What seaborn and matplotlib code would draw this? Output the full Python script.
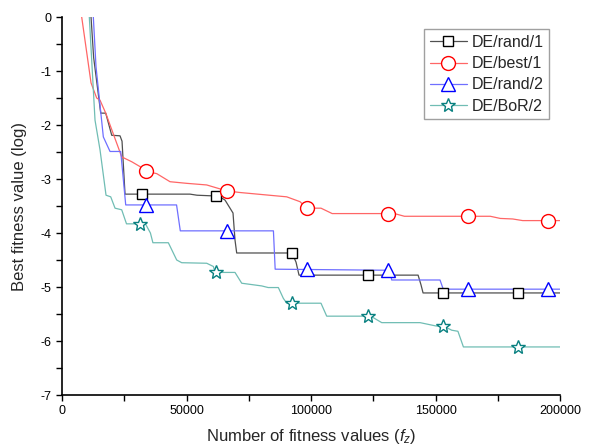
import numpy as np
import pandas as pd
import matplotlib
matplotlib.use('Agg')
import matplotlib.pyplot as plt
from matplotlib.lines import Line2D
from matplotlib.ticker import MultipleLocator
import seaborn as sns

# convergence curves (evaluations, log10 best fitness)
rand1_x = [11650, 12700, 15540, 17550, 19960, 23290, 24100, 25300, 51400, 54200, 59400, 62650,
           65460, 67470, 68670, 69470, 70150, 92370, 93980, 95180, 143000, 144170, 145000, 200000]
rand1_y = [0, -0.75, -1.78, -1.78, -2.19, -2.2, -2.3, -3.28, -3.28, -3.3, -3.31, -3.31,
           -3.39, -3.54, -3.63, -4.13, -4.37, -4.37, -4.54, -4.78, -4.78, -4.96, -5.11, -5.11]

best1_x = [7900, 11650, 13930, 15260, 17550, 20480, 23970, 27990, 31320, 33730, 38030, 43370,
           50080, 58110, 66140, 71480, 90240, 95580, 98270, 104000, 108500, 133500, 137500,
           172000, 176000, 181000, 185000, 200000]
best1_y = [0, -1.22, -1.5, -1.54, -1.78, -2.15, -2.59, -2.68, -2.77, -2.86, -2.9, -3.05,
           -3.08, -3.11, -3.22, -3.25, -3.33, -3.42, -3.54, -3.54, -3.64, -3.64, -3.69,
           -3.69, -3.73, -3.74, -3.77, -3.77]

rand2_x = [12570, 13650, 16590, 19280, 23570, 25580, 46000, 47500, 84900, 85600, 131700, 132400,
           151800, 153100, 200000]
rand2_y = [0, -0.92, -2.22, -2.49, -2.49, -3.48, -3.48, -3.96, -3.96, -4.67, -4.69, -4.87,
           -4.87, -5.04, -5.04]

bor2_x = [10960, 13250, 15260, 17670, 19560, 21290, 23970, 25300, 25900, 33500, 35500, 36500,
          42700, 46060, 48070, 58110, 60790, 61500, 69470, 72170, 80200, 82800, 86880, 88880,
          90240, 104000, 106300, 124000, 128400, 143800, 150000, 154000, 156500, 159000,
          161200, 200000]
bor2_y = [0, -1.91, -2.46, -3.3, -3.33, -3.54, -3.57, -3.75, -3.83, -3.83, -4.0, -4.18,
          -4.18, -4.5, -4.55, -4.56, -4.62, -4.73, -4.73, -4.93, -4.98, -5.01, -5.01, -5.21,
          -5.3, -5.3, -5.54, -5.54, -5.66, -5.66, -5.72, -5.74, -5.8, -5.82,
          -6.11, -6.11]

# marker positions
rand1_mx = [32100, 61800, 92370, 122800, 152900, 183300]
rand1_my = [-3.28, -3.31, -4.37, -4.78, -5.11, -5.11]
best1_mx = [33730, 66140, 98270, 130800, 162900, 195300]
best1_my = [-2.86, -3.22, -3.54, -3.64, -3.69, -3.77]
rand2_mx = [33730, 66140, 98270, 130800, 162900, 195300]
rand2_my = [-3.48, -3.96, -4.67, -4.69, -5.04, -5.04]
bor2_mx = [31300, 61840, 92240, 122800, 152900, 183300]
bor2_my = [-3.83, -4.73, -5.3, -5.54, -5.72, -6.11]

names = ['DE/rand/1', 'DE/best/1', 'DE/rand/2', 'DE/BoR/2']

sns.set_style('white')
plt.rcParams['font.family'] = ['Liberation Sans', 'DejaVu Sans']
plt.rcParams['mathtext.fontset'] = 'custom'
plt.rcParams['mathtext.it'] = 'Liberation Sans:italic'
plt.rcParams['mathtext.rm'] = 'Liberation Sans'
plt.rcParams['axes.unicode_minus'] = False

fig = plt.figure(figsize=(5.89, 4.48), dpi=100)
ax = fig.add_axes([0.1053, 0.1183, 0.8455, 0.8437])

series = [
    (rand1_x, rand1_y, rand1_mx, rand1_my, '#505050', 'black', 's', 7.5),
    (best1_x, best1_y, best1_mx, best1_my, '#ff6666', 'red', 'o', 10),
    (rand2_x, rand2_y, rand2_mx, rand2_my, '#6f6fff', 'blue', '^', 10),
    (bor2_x, bor2_y, bor2_mx, bor2_my, '#70bdb4', '#088080', '*', 10.5),
]

handles = []
for (x, y, mx, my, lc, mc, mk, ms), name in zip(series, names):
    sns.lineplot(x=x, y=y, ax=ax, color=lc, linewidth=0.9, sort=False, estimator=None)
    ax.plot(mx, my, linestyle='none', marker=mk, markersize=ms,
            markerfacecolor='white', markeredgecolor=mc, markeredgewidth=1.0, zorder=5)
    handles.append(Line2D([], [], color=lc, linewidth=0.9, marker=mk, markersize=ms,
                          markerfacecolor='white', markeredgecolor=mc, markeredgewidth=1.0))

ax.set_xlim(0, 200000)
ax.set_ylim(-7, 0)
ax.xaxis.set_major_locator(MultipleLocator(50000))
ax.xaxis.set_minor_locator(MultipleLocator(25000))
ax.yaxis.set_major_locator(MultipleLocator(1))
ax.yaxis.set_minor_locator(MultipleLocator(0.5))
ax.yaxis.set_major_formatter(plt.FormatStrFormatter('%d'))
ax.tick_params(which='both', direction='out', length=4, width=1, colors='black', labelsize=9)
ax.tick_params(axis='both', which='both', bottom=True, left=True)

for s in ['top', 'right']:
    ax.spines[s].set_visible(False)
for s in ['left', 'bottom']:
    ax.spines[s].set_color('black')
    ax.spines[s].set_linewidth(1.2)

ax.set_xlabel('Number of fitness values ($f_z$)', fontsize=12, labelpad=7)
ax.set_ylabel('Best fitness value (log)', fontsize=12, labelpad=10)

leg = ax.legend(handles, names, loc='upper right', bbox_to_anchor=(0.978, 0.968),
                borderaxespad=0, fontsize=11.5, frameon=True, fancybox=False,
                handlelength=2.3, handletextpad=0.3, labelspacing=0.4, borderpad=0.35)
leg.get_frame().set_edgecolor('#888888')
leg.get_frame().set_linewidth(1.0)

fig.savefig('out.png', dpi=100)
